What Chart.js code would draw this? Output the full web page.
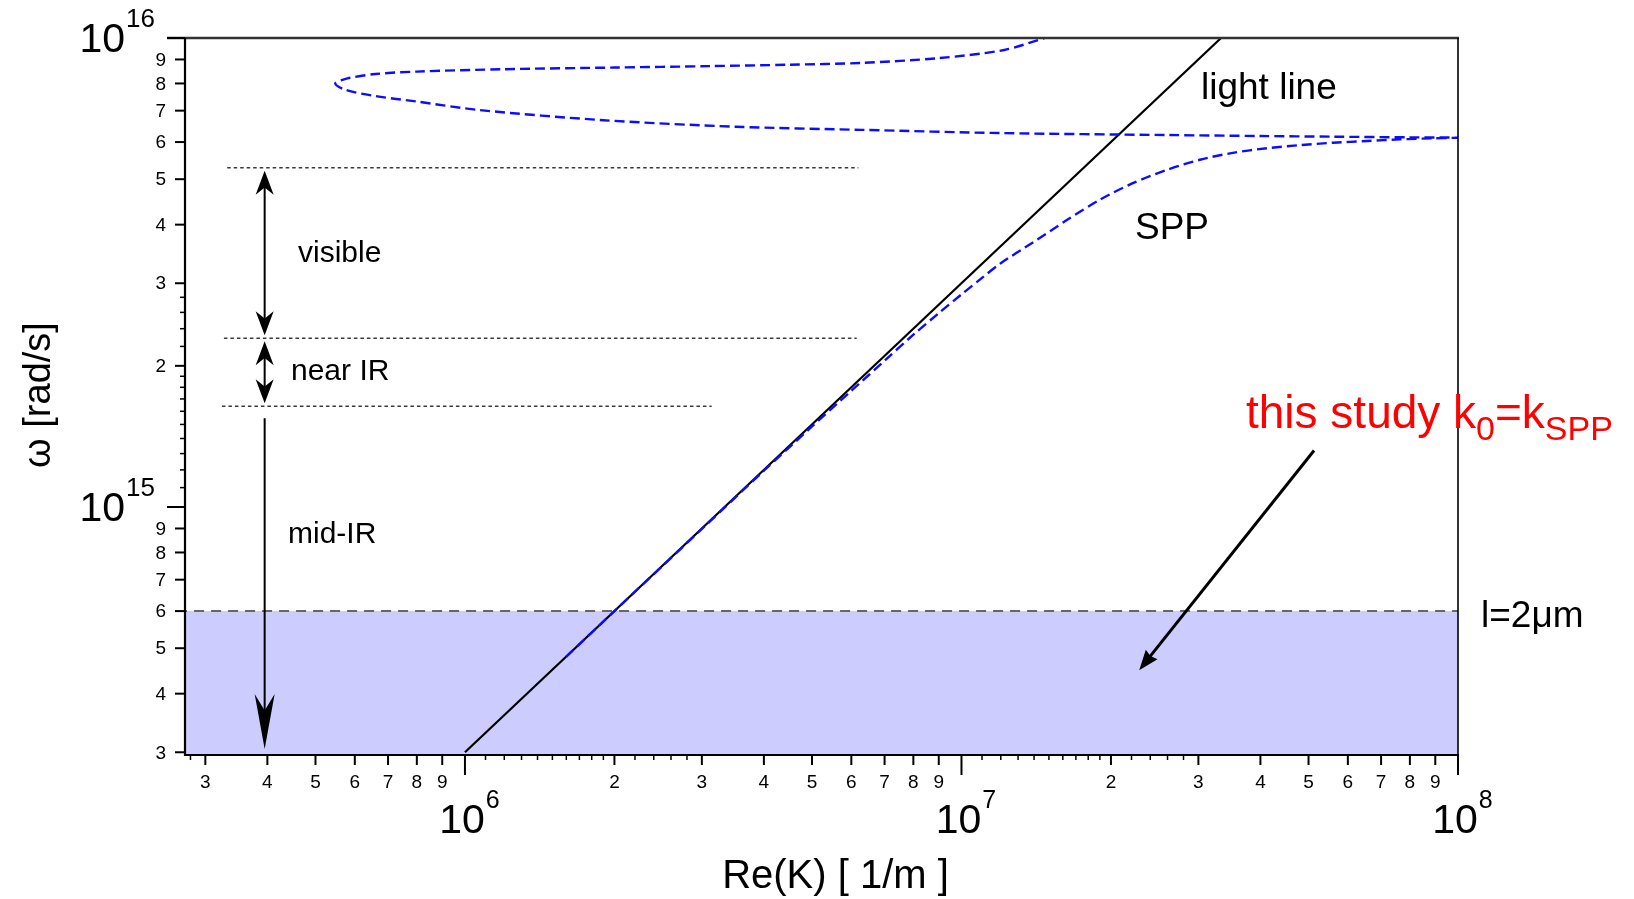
<!DOCTYPE html>
<html>
<head>
<meta charset="utf-8">
<title>Dispersion SPP</title>
<script src="https://cdn.jsdelivr.net/npm/chart.js@4.4.1/dist/chart.umd.min.js"></script>
<style>
  html, body { margin: 0; padding: 0; background: #ffffff; }
  #caja { position: relative; width: 1634px; height: 899px; }
</style>
</head>
<body>
<div id="caja"><canvas id="grafica"></canvas></div>
<script>
// wave number Re(K) [1/m] and angular frequency [rad/s]
const kMin = 2.73e5, kMax = 1e8;
const wMin = 2.96e14, wMax = 1e16;

// SPP dispersion: lower branch out to the right edge, back along the top and round the loop
const sppK = [1.6e6, 2.0e6, 3.0e6, 4.0e6, 5.0e6, 6.0e6, 7.0e6, 8.0e6, 9.0e6, 1.0e7, 1.1e7, 1.2e7,
  1.39e7, 1.63e7, 1.9e7, 2.22e7, 2.59e7, 3.02e7, 3.52e7, 4.12e7, 4.81e7, 5.6e7, 6.56e7, 7.64e7, 8.9e7, 1.0e8,
  8.0e7, 5.6e7, 4.0e7, 2.6e7, 1.2e7, 6.3e6, 3.5e6, 1.9e6, 1.07e6, 8.0e5, 6.6e5, 5.75e5, 5.48e5,
  5.8e5, 6.6e5, 8.0e5, 1.2e6, 2.0e6, 3.1e6, 4.5e6, 6.3e6, 9.0e6, 1.22e7, 1.47e7];
const sppW = [4.8e14, 6.0e14, 8.98e14, 1.195e15, 1.485e15, 1.77e15, 2.05e15, 2.33e15, 2.59e15, 2.84e15, 3.08e15, 3.31e15,
  3.66e15, 4.09e15, 4.52e15, 4.91e15, 5.23e15, 5.50e15, 5.69e15, 5.82e15, 5.91e15, 5.98e15, 6.03e15, 6.08e15, 6.11e15, 6.13e15,
  6.14e15, 6.16e15, 6.18e15, 6.21e15, 6.27e15, 6.37e15, 6.47e15, 6.68e15, 7.02e15, 7.32e15, 7.52e15, 7.75e15, 8.0e15,
  8.2e15, 8.38e15, 8.48e15, 8.58e15, 8.65e15, 8.71e15, 8.77e15, 8.85e15, 9.06e15, 9.43e15, 1.0e16];

// light line w = c k
const lightK = [1.0e6, 3.333e7];
const lightW = [3.0e14, 1.0e16];

// spectral bands: upper edges of visible / near IR / mid-IR
const bandNames = ['visible', 'near IR', 'mid-IR'];
const bandEdges = [5.29e15, 2.29e15, 1.64e15];
const bandLineFrom = [3.32e5, 3.27e5, 3.24e5];
const bandLineTo = [6.2e6, 6.15e6, 3.14e6];
const bandArrowK = 3.95e5;

// l = 2 um region
const studyW = 6.0e14;
const pointerFrom = [5.13e7, 1.32e15];
const pointerTo = [2.28e7, 4.49e14];

// log ticks
const xDecades = [5, 6, 7, 8];
const yDecades = [14, 15, 16];
const tickLabels = ['2', '3', '4', '5', '6', '7', '8', '9'];
const smallTicks = [1.1, 1.2, 1.3, 1.4, 1.5, 1.6, 1.7, 1.8, 1.9, 2.2, 2.4, 2.6, 2.8];

const FONT = '"Liberation Sans", Arial, Helvetica, sans-serif';

function puntos(xs, ys) {
  return xs.map((v, i) => ({ x: v, y: ys[i] }));
}

const bandSets = bandEdges.map((w, i) => ({
  data: [{ x: bandLineFrom[i], y: w }, { x: bandLineTo[i], y: w }],
  borderColor: '#3a3a3a',
  borderWidth: 1.6,
  borderDash: [3.5, 3],
  pointRadius: 0,
  fill: false,
  order: 1
}));

function punta(ctx, tx, ty, dx, dy, len, ancho, muesca) {
  const n = Math.hypot(dx, dy); dx /= n; dy /= n;
  const px = -dy, py = dx;
  const bx = tx - dx * len, by = ty - dy * len;
  ctx.beginPath();
  ctx.moveTo(tx, ty);
  ctx.lineTo(bx + px * ancho / 2, by + py * ancho / 2);
  ctx.lineTo(tx - dx * len * (1 - muesca), ty - dy * len * (1 - muesca));
  ctx.lineTo(bx - px * ancho / 2, by - py * ancho / 2);
  ctx.closePath();
  ctx.fill();
}

function potencia(ctx, base, exp, x, y, size, supSize, align) {
  ctx.font = size + 'px ' + FONT;
  const wb = ctx.measureText(base).width;
  ctx.font = supSize + 'px ' + FONT;
  const we = ctx.measureText(exp).width;
  let x0 = x;
  if (align === 'center') x0 = x - wb / 2;
  if (align === 'right') x0 = x - wb - we;
  ctx.textAlign = 'left';
  ctx.textBaseline = 'alphabetic';
  ctx.font = size + 'px ' + FONT;
  ctx.fillText(base, x0, y);
  ctx.font = supSize + 'px ' + FONT;
  ctx.fillText(exp, x0 + wb + 1, y - size * 0.6);
}

const ejes = {
  id: 'ejes',
  afterDatasetsDraw(chart) {
    const { ctx, chartArea: a } = chart;
    const sx = chart.scales.x, sy = chart.scales.y;
    ctx.save();
    ctx.fillStyle = '#000';
    ctx.strokeStyle = '#000';
    ctx.lineCap = 'butt';

    // frame
    ctx.lineWidth = 2.5;
    ctx.strokeStyle = '#333';
    ctx.beginPath();
    ctx.moveTo(a.left - 18, a.top); ctx.lineTo(a.right + 1, a.top);
    ctx.stroke();
    ctx.strokeStyle = '#000';
    ctx.lineWidth = 1.6;
    ctx.beginPath();
    ctx.moveTo(a.right, a.top); ctx.lineTo(a.right, a.bottom);
    ctx.stroke();
    ctx.lineWidth = 2.2;
    ctx.beginPath();
    ctx.moveTo(a.left, a.top); ctx.lineTo(a.left, a.bottom + 1);
    ctx.moveTo(a.left - 1, a.bottom); ctx.lineTo(a.right + 1, a.bottom);
    ctx.stroke();

    // y ticks
    yDecades.forEach(d => {
      const base = Math.pow(10, d);
      if (base >= wMin && base <= wMax) {
        const p = sy.getPixelForValue(base);
        ctx.lineWidth = 2; ctx.beginPath();
        ctx.moveTo(a.left - 18, p); ctx.lineTo(a.left, p); ctx.stroke();
        potencia(ctx, '10', String(d), a.left - 31, p + 14, 41, 26, 'right');
      }
      tickLabels.forEach(t => {
        const v = Number(t) * base;
        if (v < wMin || v > wMax) return;
        const p = sy.getPixelForValue(v);
        ctx.lineWidth = 2; ctx.beginPath();
        ctx.moveTo(a.left - 10, p); ctx.lineTo(a.left, p); ctx.stroke();
        ctx.font = '19px ' + FONT;
        ctx.textAlign = 'right'; ctx.textBaseline = 'middle';
        ctx.fillText(t, a.left - 19, p + 1);
      });
      smallTicks.forEach(m => {
        const v = m * base;
        if (v < wMin || v > wMax) return;
        const p = sy.getPixelForValue(v);
        ctx.lineWidth = 1.5; ctx.beginPath();
        ctx.moveTo(a.left - 5, p); ctx.lineTo(a.left, p); ctx.stroke();
      });
    });

    // x ticks
    xDecades.forEach(d => {
      const base = Math.pow(10, d);
      if (base >= kMin && base <= kMax) {
        const p = sx.getPixelForValue(base);
        ctx.lineWidth = 2; ctx.beginPath();
        ctx.moveTo(p, a.bottom); ctx.lineTo(p, a.bottom + 20); ctx.stroke();
        potencia(ctx, '10', String(d), p - 3, a.bottom + 78, 41, 25, 'center');
      }
      tickLabels.forEach(t => {
        const v = Number(t) * base;
        if (v < kMin || v > kMax) return;
        const p = sx.getPixelForValue(v);
        ctx.lineWidth = 2; ctx.beginPath();
        ctx.moveTo(p, a.bottom); ctx.lineTo(p, a.bottom + 10); ctx.stroke();
        ctx.font = '19px ' + FONT;
        ctx.textAlign = 'center'; ctx.textBaseline = 'middle';
        ctx.fillText(t, p, a.bottom + 28);
      });
      smallTicks.forEach(m => {
        const v = m * base;
        if (v < kMin || v > kMax) return;
        const p = sx.getPixelForValue(v);
        ctx.lineWidth = 1.5; ctx.beginPath();
        ctx.moveTo(p, a.bottom); ctx.lineTo(p, a.bottom + 5); ctx.stroke();
      });
    });

    // axis titles
    ctx.textBaseline = 'alphabetic';
    ctx.textAlign = 'center';
    ctx.font = '40px ' + FONT;
    ctx.fillText('Re(K) [ 1/m ]', (a.left + a.right) / 2 + 14, 888);
    ctx.save();
    ctx.translate(50, 395);
    ctx.rotate(-Math.PI / 2);
    ctx.font = '38px ' + FONT;
    ctx.textBaseline = 'alphabetic';
    ctx.fillText('ω [rad/s]', 0, 0);
    ctx.restore();

    // band arrows
    const ax = sx.getPixelForValue(bandArrowK);
    const e0 = sy.getPixelForValue(bandEdges[0]);
    const e1 = sy.getPixelForValue(bandEdges[1]);
    const e2 = sy.getPixelForValue(bandEdges[2]);
    ctx.lineWidth = 2;
    ctx.beginPath();
    ctx.moveTo(ax, e0 + 10); ctx.lineTo(ax, e1 - 10);
    ctx.moveTo(ax, e1 + 10); ctx.lineTo(ax, e2 - 10);
    ctx.moveTo(ax, e2 + 12); ctx.lineTo(ax, a.bottom - 30);
    ctx.stroke();
    punta(ctx, ax, e0 + 3, 0, -1, 24, 18, 0.3);
    punta(ctx, ax, e1 - 3, 0, 1, 24, 18, 0.3);
    punta(ctx, ax, e1 + 3, 0, -1, 24, 18, 0.3);
    punta(ctx, ax, e2 - 3, 0, 1, 24, 18, 0.3);
    punta(ctx, ax, a.bottom - 6, 0, 1, 55, 20, 0.3);

    // band names
    ctx.textAlign = 'left';
    ctx.font = '30px ' + FONT;
    ctx.fillText(bandNames[0], 298, 262);
    ctx.fillText(bandNames[1], 291, 380);
    ctx.fillText(bandNames[2], 288, 543);

    // curve labels
    ctx.font = '37px ' + FONT;
    ctx.fillText('light line', 1201, 99);
    ctx.fillText('SPP', 1135, 239);
    ctx.fillText('l=2\u03bcm', 1481, 627);

    // pointer to the shaded region
    const p0x = sx.getPixelForValue(pointerFrom[0]), p0y = sy.getPixelForValue(pointerFrom[1]);
    const p1x = sx.getPixelForValue(pointerTo[0]), p1y = sy.getPixelForValue(pointerTo[1]);
    const dx = p1x - p0x, dy = p1y - p0y, n = Math.hypot(dx, dy);
    ctx.lineWidth = 3;
    ctx.beginPath();
    ctx.moveTo(p0x, p0y);
    ctx.lineTo(p1x - dx / n * 14, p1y - dy / n * 14);
    ctx.stroke();
    punta(ctx, p1x, p1y, dx, dy, 20, 15, 0.1);

    // red note
    ctx.fillStyle = '#ff0000';
    let tx = 1246;
    const by = 428;
    const parts = [['this study k', 46, 0], ['0', 34, 12], ['=k', 46, 0], ['SPP', 34, 12]];
    parts.forEach(([s, size, off]) => {
      ctx.font = size + 'px ' + FONT;
      ctx.fillText(s, tx, by + off);
      tx += ctx.measureText(s).width;
    });

    ctx.restore();
  }
};

const $grafica = document.getElementById('grafica').getContext('2d');

new Chart($grafica, {
  type: 'line',
  data: {
    datasets: [
      {
        label: 'SPP',
        data: puntos(sppK, sppW),
        borderColor: '#0c0cff',
        borderWidth: 2.4,
        borderDash: [10, 5],
        pointRadius: 0,
        tension: 0.3,
        fill: false,
        order: 0
      },
      {
        label: 'light line',
        data: puntos(lightK, lightW),
        borderColor: '#000000',
        borderWidth: 2.2,
        pointRadius: 0,
        fill: false,
        order: 1
      },
      ...bandSets,
      {
        label: 'l=2um',
        data: [{ x: kMin, y: wMin }, { x: kMin, y: studyW }, { x: kMax, y: studyW }],
        borderColor: '#666666',
        borderWidth: 2,
        borderDash: [10, 7],
        backgroundColor: '#ccccff',
        pointRadius: 0,
        fill: 'start',
        order: 5
      }
    ]
  },
  options: {
    responsive: true,
    maintainAspectRatio: false,
    animation: false,
    layout: { padding: { left: 185, right: 176, top: 38, bottom: 144 } },
    plugins: {
      legend: { display: false },
      tooltip: { enabled: false },
      title: { display: false }
    },
    scales: {
      x: { type: 'logarithmic', min: kMin, max: kMax, display: false },
      y: { type: 'logarithmic', min: wMin, max: wMax, display: false }
    }
  },
  plugins: [ejes]
});
</script>
</body>
</html>
